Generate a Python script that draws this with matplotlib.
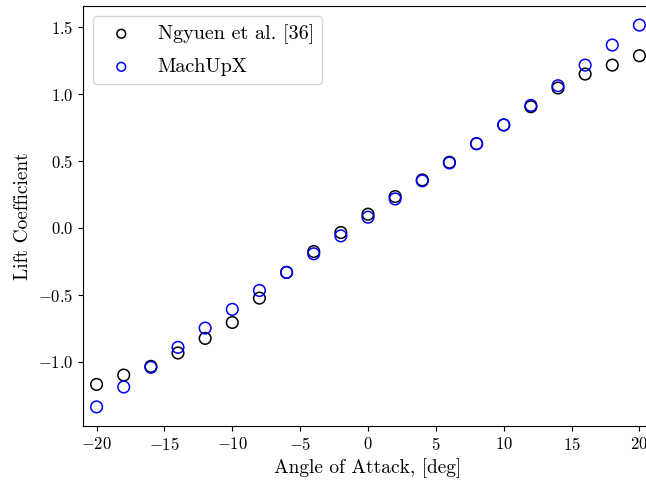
import matplotlib
matplotlib.use("Agg")
import matplotlib.pyplot as plt
import numpy as np

plt.rcParams["font.family"] = "serif"
plt.rcParams["font.serif"] = ["cmr10"]
plt.rcParams["mathtext.fontset"] = "cm"
plt.rcParams["axes.formatter.use_mathtext"] = True
plt.rcParams["font.size"] = 12

alpha = [-20, -18, -16, -14, -12, -10, -8, -6, -4, -2, 0, 2, 4, 6, 8, 10, 12, 14, 16, 18, 20]
cl_ngyuen = [-1.17, -1.10, -1.035, -0.935, -0.826, -0.707, -0.525, -0.333, -0.177, -0.035,
             0.102, 0.234, 0.358, 0.49, 0.629, 0.769, 0.905, 1.045, 1.149, 1.216, 1.286]
cl_machupx = [-1.338, -1.189, -1.042, -0.893, -0.749, -0.609, -0.468, -0.333, -0.194, -0.06,
              0.08, 0.216, 0.351, 0.485, 0.629, 0.769, 0.915, 1.062, 1.216, 1.366, 1.515]

fig = plt.figure(figsize=(6.46, 4.83), dpi=100)
ax = fig.add_axes([83 / 646, 57 / 483, 570 / 646, 420 / 483])

ax.scatter(alpha, cl_ngyuen, s=70, facecolors="none", edgecolors="black", linewidths=1.1,
           label="Ngyuen et al. [36]")
ax.scatter(alpha, cl_machupx, s=70, facecolors="none", edgecolors="blue", linewidths=1.1,
           label="MachUpX")

ax.set_xlim(-21, 21)
ax.set_xticks(np.arange(-20, 21, 5))
ax.set_yticks([-1.0, -0.5, 0.0, 0.5, 1.0, 1.5])
ax.set_xlabel("Angle of Attack, [deg]", fontsize=14)
ax.set_ylabel("Lift Coefficient", fontsize=14)
ax.legend(loc="upper left", fontsize=14.5, markerscale=0.75, labelspacing=0.7)

fig.savefig("out.png", dpi=100)
